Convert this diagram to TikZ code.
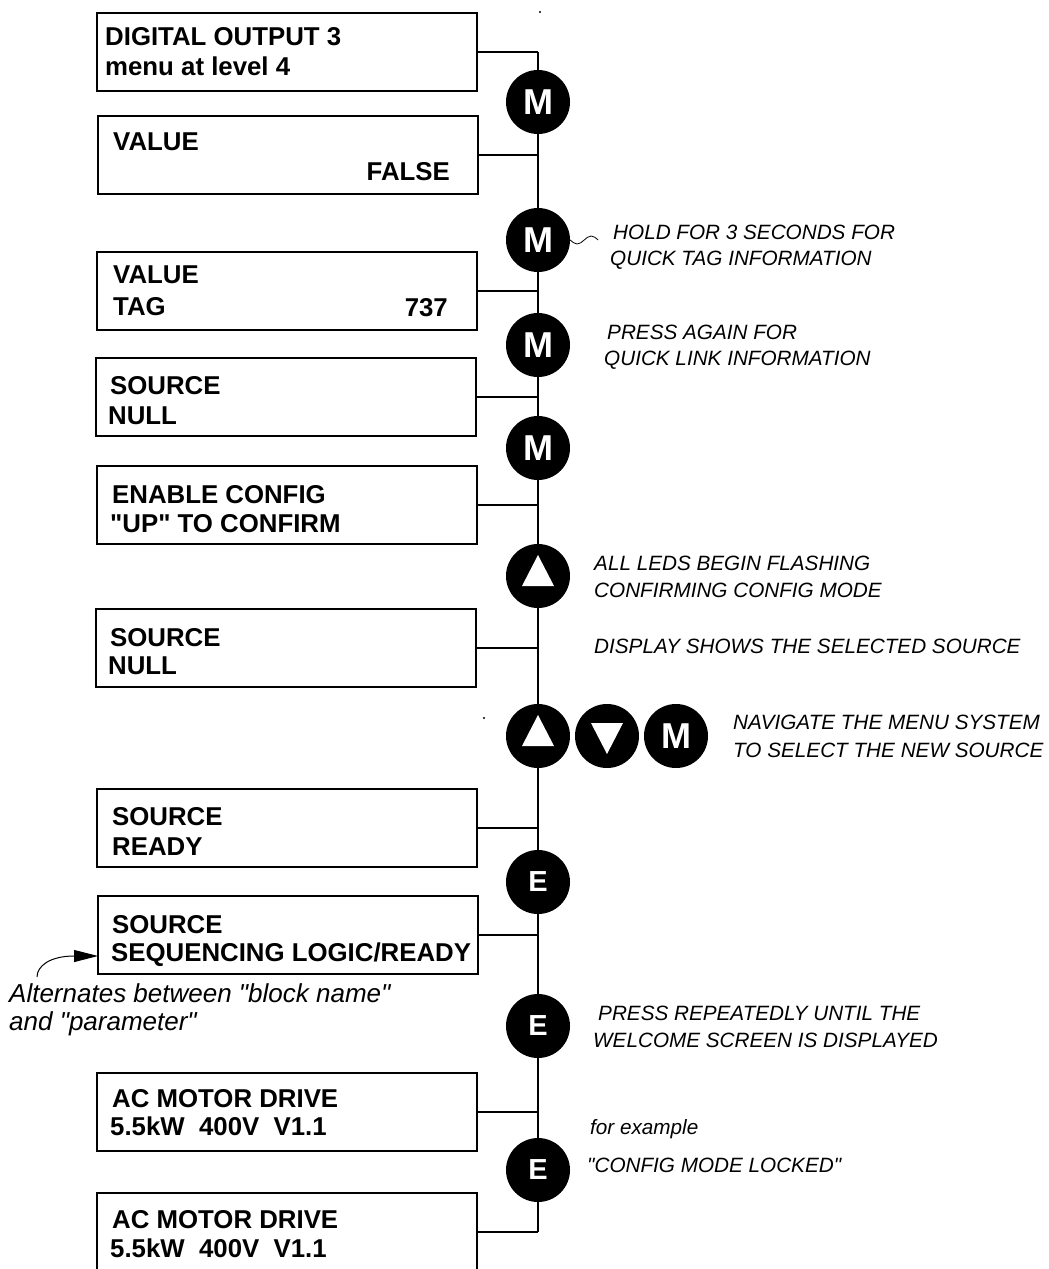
\documentclass[tikz,border=0pt]{standalone}
\usepackage{fontspec}
\setmainfont{Liberation Sans}[Ligatures=TeXOff]
\usetikzlibrary{arrows.meta,calc}
\begin{document}
\begin{tikzpicture}[x=1pt,y=-1pt,
  box/.style={draw,line width=2.6pt,minimum width=380pt,minimum height=78pt,inner sep=0pt,outer sep=0pt,anchor=north west},
  btxt/.style={font=\fontsize{25.8}{30}\selectfont\bfseries,inner sep=0pt,anchor=base west},
  btxtr/.style={btxt,anchor=base east},
  note/.style={font=\fontsize{20.7}{26}\selectfont\itshape,inner sep=0pt,anchor=base west},
  bignote/.style={font=\fontsize{26}{28}\selectfont\itshape,inner sep=0pt,anchor=base west},
  btn/.style={circle,fill=black,minimum size=64pt,inner sep=0pt,text=white,font=\fontsize{36}{36}\selectfont\bfseries},
  ebtn/.style={btn,font=\fontsize{29}{29}\selectfont\bfseries},
  wire/.style={line width=2pt}]
\useasboundingbox (0,0) rectangle (1049,1269);
\clip (0,0) rectangle (1049,1269);
\coordinate (spine) at (538,0);
% boxes
\node[box] (b1) at (97,13) {};
\node[box] (b2) at (98,116) {};
\node[box] (b3) at (97,252) {};
\node[box] (b4) at (96,358) {};
\node[box] (b5) at (97,466) {};
\node[box] (b6) at (96,609) {};
\node[box] (b7) at (97,789) {};
\node[box] (b8) at (98,896) {};
\node[box] (b9) at (97,1073) {};
\node[box] (b10) at (97,1193) {};
% connectors
\foreach \b in {b1,b2,b3,b4,b5,b6,b7,b8,b9,b10}
  \draw[wire] (\b.east) -- (\b.east -| spine);
\draw[wire] (b1.east -| spine) -- (b10.east -| spine);
% box texts
\node[btxt] (t1a) at (105,45) {DIGITAL OUTPUT 3};
\node[btxt] (t1b) at (105,75) {menu at level 4};
\node[btxt] (t2a) at (113,150) {VALUE};
\node[btxtr] (t2b) at (450,180) {FALSE};
\node[btxt] (t3a) at (113,283) {VALUE};
\node[btxt] (t3b) at (113,315) {TAG};
\node[btxtr] (t3c) at (448,316) {737};
\node[btxt] (t4a) at (110,394) {SOURCE};
\node[btxt] (t4b) at (108,424) {NULL};
\node[btxt] (t5a) at (112,503) {ENABLE CONFIG};
\node[btxt] (t5b) at (110,532) {"UP" TO CONFIRM};
\node[btxt] (t6a) at (110,646) {SOURCE};
\node[btxt] (t6b) at (108,674) {NULL};
\node[btxt] (t7a) at (112,825) {SOURCE};
\node[btxt] (t7b) at (112,855) {READY};
\node[btxt] (t8a) at (112,933) {SOURCE};
\node[btxt] (t8b) at (111,961) {SEQUENCING LOGIC/READY};
\node[btxt] (t9a) at (112,1107) {AC MOTOR DRIVE};
\node[btxt] (t9b) at (110,1135) {5.5kW\ \ 400V\ \ V1.1};
\node[btxt] (t10a) at (112,1228) {AC MOTOR DRIVE};
\node[btxt] (t10b) at (110,1257) {5.5kW\ \ 400V\ \ V1.1};
% buttons
\node[btn] (m1) at (538,102) {M};
\node[btn] (m2) at (538,240) {M};
\node[btn] (m3) at (538,345) {M};
\node[btn] (m4) at (538,448) {M};
\node[btn] (u1) at (538,576) {};
\fill[white] ($(u1)+(0,-21)$) -- ($(u1)+(16,10)$) -- ($(u1)+(-16,10)$) -- cycle;
\node[btn] (u2) at (538,736) {};
\fill[white] ($(u2)+(0,-21)$) -- ($(u2)+(16,10)$) -- ($(u2)+(-16,10)$) -- cycle;
\node[btn] (d1) at (607,736) {};
\fill[white] ($(d1)+(0,18)$) -- ($(d1)+(16,-13)$) -- ($(d1)+(-16,-13)$) -- cycle;
\node[btn] (m5) at (676,736) {M};
\node[ebtn] (e1) at (538,882) {E};
\node[ebtn] (e2) at (538,1026) {E};
\node[ebtn] (e3) at (538,1170) {E};
% wave
\draw[line width=0.8pt] (m2.east) sin ++(7,4) cos ++(7,-4) sin ++(7,-4) cos ++(7,4);
% notes
\node[note] (n1a) at (613,239) {HOLD FOR 3 SECONDS FOR};
\node[note] (n1b) at (610,265) {QUICK TAG INFORMATION};
\node[note] (n2a) at (607,339) {PRESS AGAIN FOR};
\node[note] (n2b) at (604,365) {QUICK LINK INFORMATION};
\node[note] (n3a) at (594,570) {ALL LEDS BEGIN FLASHING};
\node[note] (n3b) at (594,597) {CONFIRMING CONFIG MODE};
\node[note] (n4) at (594,653) {DISPLAY SHOWS THE SELECTED SOURCE};
\node[note] (n5a) at (733,729) {NAVIGATE THE MENU SYSTEM};
\node[note] (n5b) at (733,757) {TO SELECT THE NEW SOURCE};
\node[note] (n6a) at (598,1020) {PRESS REPEATEDLY UNTIL THE};
\node[note] (n6b) at (593,1047) {WELCOME SCREEN IS DISPLAYED};
\node[note] (n7) at (590,1134) {for example};
\node[note] (n8) at (587,1172) {"CONFIG MODE LOCKED"};
\node[bignote] (n9a) at (9,1002) {Alternates between "block name"};
\node[bignote] (n9b) at (9,1030) {and "parameter"};
% arrow
\coordinate (arrs) at (37,977);
\draw[line width=1pt,-{Triangle[length=24pt,width=12pt]}] (arrs) .. controls (37,966) and (50,956) .. (b8.west |- 0,956);
% stray dots
\fill (540,12) circle (1.2);
\fill (484,718) circle (1.2);
\end{tikzpicture}
\end{document}
